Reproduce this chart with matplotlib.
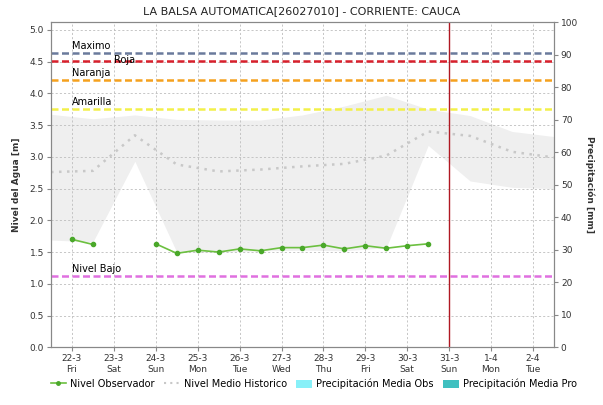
#!/usr/bin/env python3
# -*- coding: utf-8 -*-
"""
Nivel del agua - LA BALSA AUTOMATICA (Cauca)
Observado, nivel medio historico, banda historica y umbrales de alerta.
"""

import matplotlib
matplotlib.use("Agg")
import matplotlib.pyplot as plt
import numpy as np
from matplotlib.lines import Line2D
from matplotlib.patches import Patch

plt.rcParams["font.family"] = ["DejaVu Sans"]

# ───────────── datos ─────────────
TITLE = "LA BALSA AUTOMATICA[26027010] - CORRIENTE: CAUCA"

tick_days = ["22-3", "23-3", "24-3", "25-3", "26-3", "27-3",
             "28-3", "29-3", "30-3", "31-3", "1-4", "2-4"]
tick_wdays = ["Fri", "Sat", "Sun", "Mon", "Tue", "Wed",
              "Thu", "Fri", "Sat", "Sun", "Mon", "Tue"]

# nivel observado cada 12 h (dias desde 22-3)
obs_t = [0.0, 0.5, 1.0, 1.5, 2.0, 2.5, 3.0, 3.5, 4.0, 4.5, 5.0, 5.5,
         6.0, 6.5, 7.0, 7.5, 8.0, 8.5]
obs_level = [1.70, 1.62, np.nan, np.nan, 1.63, 1.48, 1.53, 1.50, 1.55, 1.52,
             1.57, 1.57, 1.61, 1.55, 1.60, 1.56, 1.60, 1.63]

# historico (medio, minimo, maximo)
hist_t = [-0.5, 0.5, 1.5, 2.5, 3.5, 4.5, 5.5, 6.5, 7.5, 8.5, 9.5, 10.5, 11.5]
hist_mean = [2.76, 2.78, 3.34, 2.88, 2.77, 2.80, 2.85, 2.89, 3.02, 3.40,
             3.33, 3.08, 2.99]
hist_low = [1.69, 1.66, 2.93, 1.50, 1.50, 1.52, 1.53, 1.52, 1.57, 3.18,
            2.62, 2.52, 2.50]
hist_high = [3.67, 3.60, 3.66, 3.59, 3.58, 3.58, 3.66, 3.80, 3.97, 3.75,
             3.65, 3.40, 3.32]

# umbrales [m]
thr_names = ["Maximo", "Roja", "Naranja", "Amarilla", "Nivel Bajo"]
thr_values = [4.64, 4.51, 4.21, 3.75, 1.13]
thr_colors = ["#6a7a9c", "#d8202c", "#f5a11e", "#f2f04a", "#e070e0"]
thr_label_x = [0.0, 1.0, 0.0, 0.0, 0.0]

now_day = 9.0  # 31-3
# ────────────────────────────────

fig = plt.figure(figsize=(6.03, 4.05), dpi=100)
ax = fig.add_axes([0.0846, 0.1425, 0.834, 0.8025])
ax2 = ax.twinx()

# banda historica
ax.fill_between(hist_t, hist_low, hist_high, color="#efefef", lw=0, zorder=1)

# rejilla punteada
for x in range(len(tick_days)):
    ax.axvline(x, color="#bdbdbd", lw=0.6, ls=(0, (2.5, 2.5)), zorder=2)
for y in np.arange(0.5, 5.01, 0.5):
    ax.axhline(y, color="#bdbdbd", lw=0.6, ls=(0, (2.5, 2.5)), zorder=2)

ax.plot(hist_t, hist_mean, color="#c8c8c8", lw=1.8, ls=(0, (1, 2.2)), zorder=3)

# umbrales de alerta
for name, val, col, lx in zip(thr_names, thr_values, thr_colors, thr_label_x):
    ax.axhline(val, color=col, lw=1.8, ls=(0, (2.8, 1.4)), zorder=4)
    dy = -0.07 if name == "Roja" else 0.03
    ax.text(lx, val + dy, name, fontsize=7, color="black",
            ha="left", va="bottom", zorder=6)

ax.axvline(now_day, color="#b01822", lw=1, zorder=5)

ax.plot(obs_t, obs_level, color="#6cc040", lw=1.2, marker="o", ms=3,
        mfc="#4aa82a", mec="#4aa82a", zorder=6)

ax.set_xlim(-0.5, 11.5)
ax.set_ylim(0, 5.12)
ax.set_xticks(range(len(tick_days)))
ax.set_xticklabels([f"{d}\n{w}" for d, w in zip(tick_days, tick_wdays)],
                   fontsize=6.5, linespacing=1.3)
ax.set_yticks(np.arange(0, 5.01, 0.5))
ax.set_yticklabels([f"{v:.1f}" for v in np.arange(0, 5.01, 0.5)], fontsize=6.5)
ax.set_ylabel("Nivel del Agua [m]", fontsize=6.5, fontweight="bold",
              color="#333333", labelpad=6)

ax2.set_ylim(0, 100)
ax2.set_yticks(range(0, 101, 10))
ax2.set_yticklabels([str(v) for v in range(0, 101, 10)], fontsize=6.5)
ax2.set_ylabel("Precipitación [mm]", fontsize=6.5, fontweight="bold",
               color="#333333", rotation=-90, labelpad=12)

for a in (ax, ax2):
    for s in a.spines.values():
        s.set_color("#888888")
        s.set_linewidth(0.8)
    a.tick_params(length=3, width=0.8, color="#888888", pad=2,
                  labelcolor="#333333")

fig.suptitle(TITLE, fontsize=8, y=0.985, color="#222222")

handles = [
    Line2D([], [], color="#6cc040", lw=1.2, marker="o", ms=2.5,
           mfc="#4aa82a", mec="#4aa82a"),
    Line2D([], [], color="#c8c8c8", lw=1.5, ls=(0, (1, 2))),
    Patch(facecolor="#88f0f8", edgecolor="none"),
    Patch(facecolor="#40c0c0", edgecolor="none"),
]
labels = ["Nivel Observador", "Nivel Medio Historico",
          "Precipitación Media Obs", "Precipitación Media Pro"]
fig.legend(handles, labels, loc="center", bbox_to_anchor=(0.52, 0.052),
           ncol=4, frameon=False, fontsize=7, handlelength=1.6,
           handletextpad=0.4, columnspacing=1.0, handleheight=1.0)

fig.savefig("out.png", dpi=100, facecolor="white")
